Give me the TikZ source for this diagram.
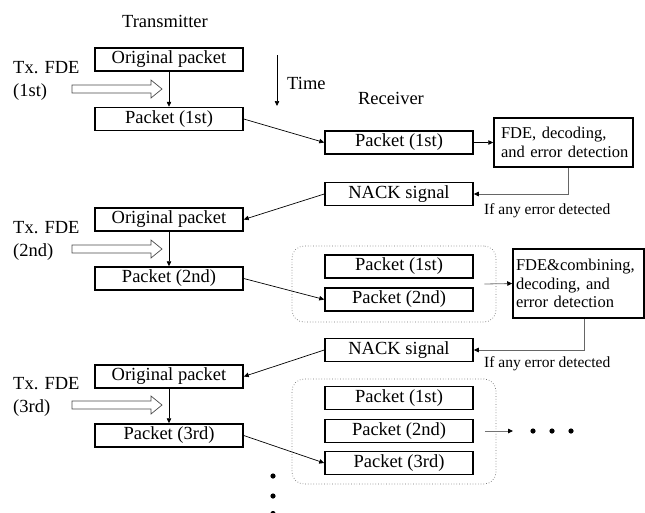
\documentclass[tikz,border=0pt]{standalone}
\usepackage{fontspec}
\setmainfont{Liberation Serif}
\usetikzlibrary{arrows.meta}
\begin{document}
\begin{tikzpicture}[x=1pt,y=-1pt,
  box/.style={draw, line width=1.5pt, minimum width=148pt, minimum height=23pt, inner sep=0pt, font=\fontsize{18.5}{22}\selectfont},
  lbl/.style={font=\fontsize{18.5}{23}\selectfont, inner sep=0pt},
  small/.style={font=\fontsize{15.5}{18}\selectfont, inner sep=0pt},
  conn/.style={line width=0.7pt, -{Triangle[length=5pt,width=4.5pt]}},
  gconn/.style={line width=0.8pt, draw=black!55, -{Triangle[length=5pt,width=4.5pt,black]}},
  gline/.style={line width=0.8pt, draw=black!60},
  group/.style={draw=black!55, dotted, line width=0.7pt, rounded corners=12pt, inner sep=0pt},
  fdebox/.style={draw, line width=1.5pt, align=left, font=\fontsize{16.5}{18.5}\selectfont},
  hollow/.pic={\draw[line width=0.7pt, draw=black!70, fill=white] (-90,-4) -- (-11,-4) -- (-11,-9) -- (0,0) -- (-11,9) -- (-11,4) -- (-90,4) -- cycle;}
]
\useasboundingbox (0,0) rectangle (645,512);

% titles
\node[lbl] (tx) at (165,21) {Transmitter};
\node[lbl] (rx) at (391,98) {Receiver};
\coordinate (t1) at (277,55);
\coordinate (t2) at (277,106);
\draw[conn] (t1) -- (t2);
\node[lbl, anchor=west] (time) at (287,83) {Time};

% groups (drawn first)
\node[group, minimum width=204pt, minimum height=76pt] (g2) at (394,284) {};
\node[group, minimum width=204pt, minimum height=105pt] (g3) at (394,431.5) {};

% transmitter boxes
\node[box] (orig1) at (169,59.5) {Original packet};
\node[box] (txp1) at (169,119) {Packet (1st)};
\node[box] (orig2) at (169,219.5) {Original packet};
\node[box] (txp2) at (169,278.5) {Packet (2nd)};
\node[box] (orig3) at (169,376.5) {Original packet};
\node[box] (txp3) at (169,435.5) {Packet (3rd)};

% Tx FDE labels and hollow arrows
\node[lbl, anchor=west, align=left] (f1) at (13,80.5) {Tx. FDE\\(1st)};
\node[lbl, anchor=west, align=left] (f2) at (13,240.5) {Tx. FDE\\(2nd)};
\node[lbl, anchor=west, align=left] (f3) at (13,396.5) {Tx. FDE\\(3rd)};
\pic at (162,89) {hollow};
\pic at (162,249) {hollow};
\pic at (162,405) {hollow};

% receiver boxes
\node[box] (rxp1) at (399,142.5) {Packet (1st)};
\node[box] (nack1) at (399,194) {NACK signal};
\node[fdebox, text width=125pt, inner xsep=7pt, minimum height=49pt] (fde1) at (563.5,142.5) {\mbox{FDE, decoding,}\\\mbox{and error detection}};
\node[small, anchor=west] (err1) at (484,211) {If any error detected};

\node[box] (g2p1) at (399,266.5) {Packet (1st)};
\node[box] (g2p2) at (399,299.5) {Packet (2nd)};
\node[fdebox, text width=125pt, inner xsep=3pt, minimum height=69pt] (fde2) at (578.5,283.5) {\mbox{FDE\&combining,}\\\mbox{decoding, and}\\\mbox{error detection}};
\node[box] (nack2) at (399,350) {NACK signal};
\node[small, anchor=west] (err2) at (484,364) {If any error detected};

\node[box] (g3p1) at (399,398) {Packet (1st)};
\node[box] (g3p2) at (399,431) {Packet (2nd)};
\node[box] (g3p3) at (399,463) {Packet (3rd)};

% connectors
\draw[conn] (orig1.south) -- (txp1.north);
\draw[conn] (orig2.south) -- (txp2.north);
\draw[conn] (orig3.south) -- (txp3.north);
\draw[conn] (txp1.east) -- (rxp1.west);
\draw[conn] (rxp1.east) -- (rxp1.east -| fde1.west);
\draw[gline, -{Triangle[length=5pt,width=4.5pt,black]}] ([xshift=4.5pt]fde1.south) |- (nack1.east);
\draw[conn] (nack1.west) -- (orig2.east);
\draw[conn] (txp2.east) -- (g2p2.west);
\draw[gconn] ([xshift=-12pt]g2.east) -- (fde2.west);
\draw[gline, -{Triangle[length=5pt,width=4.5pt,black]}] ([xshift=5.5pt]fde2.south) |- (nack2.east);
\draw[conn] (nack2.west) -- (orig3.east);
\draw[conn] (txp3.east) -- (g3p3.west);
\coordinate (more) at (513,431);
\draw[gconn] ([xshift=11pt]g3p2.east) -- (more);

% dots
\fill (533,431) circle (2.6pt);
\fill (552,431) circle (2.6pt);
\fill (571,431) circle (2.6pt);
\fill (273,476) circle (2.6pt);
\fill (273,496) circle (2.6pt);
\fill (273,513.5) circle (2.6pt);
\end{tikzpicture}
\end{document}
